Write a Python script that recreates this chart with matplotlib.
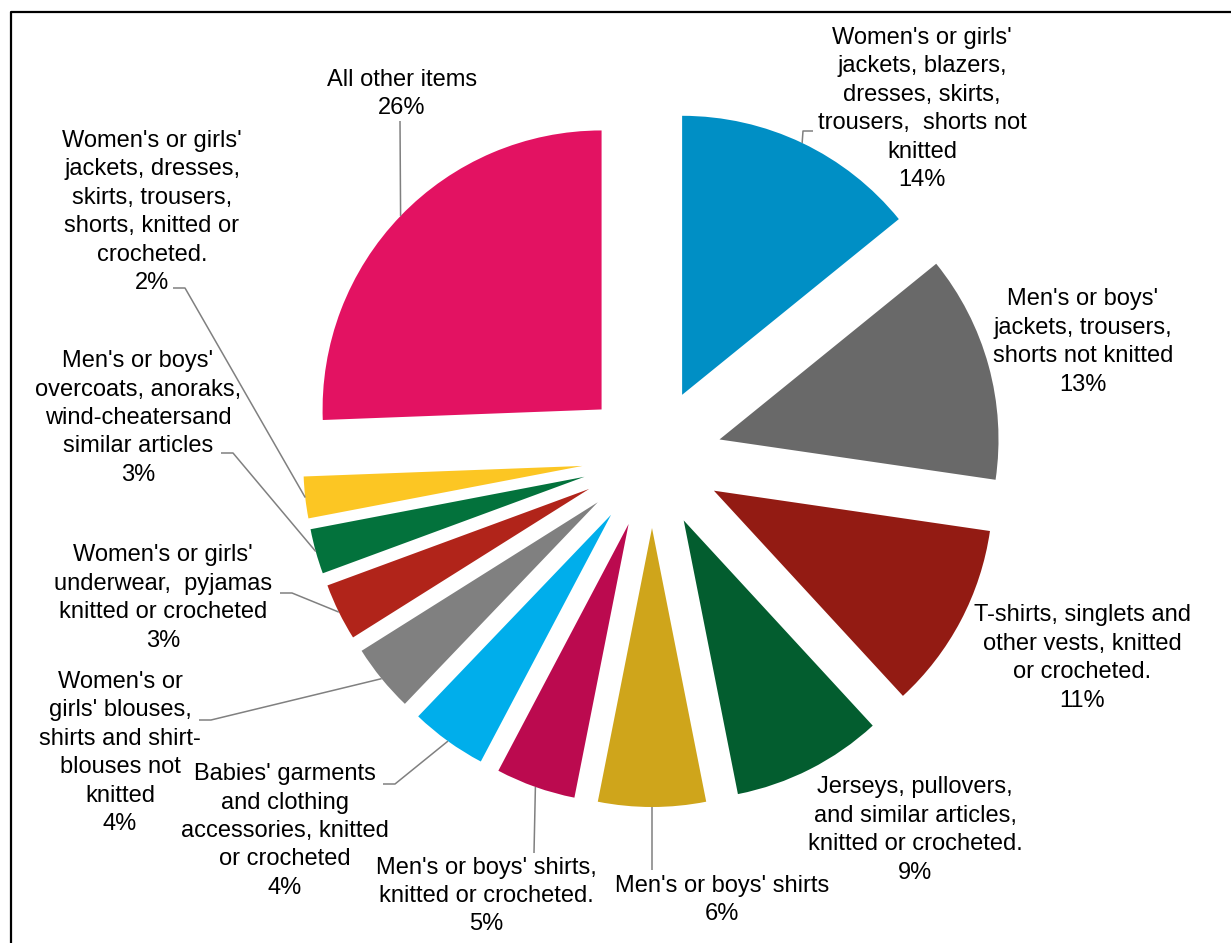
import numpy as np
import matplotlib
matplotlib.use("Agg")
import matplotlib.pyplot as plt

# slice data, clockwise from 12 o'clock
categories = [
    "Women's or girls'\njackets, blazers,\ndresses, skirts,\ntrousers,  shorts not\nknitted",
    "Men's or boys'\njackets, trousers,\nshorts not knitted",
    "T-shirts, singlets and\nother vests, knitted\nor crocheted.",
    "Jerseys, pullovers,\nand similar articles,\nknitted or crocheted.",
    "Men's or boys' shirts",
    "Men's or boys' shirts,\nknitted or crocheted.",
    "Babies' garments\nand clothing\naccessories, knitted\nor crocheted",
    "Women's or\ngirls' blouses,\nshirts and shirt-\nblouses not\nknitted",
    "Women's or girls'\nunderwear,  pyjamas\nknitted or crocheted",
    "Men's or boys'\novercoats, anoraks,\nwind-cheatersand\nsimilar articles",
    "Women's or girls'\njackets, dresses,\nskirts, trousers,\nshorts, knitted or\ncrocheted.",
    "All other items",
]
shares = [14.1, 13.1, 10.8, 8.7, 6.2, 4.6, 4.4, 3.9, 3.3, 2.6, 2.4, 25.5]
pct_labels = ["14%", "13%", "11%", "9%", "6%", "5%", "4%", "4%", "3%", "3%", "2%", "26%"]

colors = ['#008FC5', '#696969', '#931B13', '#035D2F', '#CFA51B', '#BB0A4F',
          '#00AEEB', '#808080', '#B1241A', '#03723C', '#FCC623', '#E31262']

W, H = 1231, 943

# label centres (pixel coords, y from top)
label_pos = [(922, 109), (1083, 342), (1082, 658), (915, 830), (722, 900), (486, 896),
             (285, 831), (120, 753), (163, 598), (138, 418), (152, 212), (402, 94)]
# where the leader leaves the label (None = no leader), and the short horizontal elbow
leader_start = [(813, 131), None, None, None, (652, 870), (534, 853),
                (383, 784), (199, 720), (280, 593), (221, 453), (173, 288), (400, 121)]
elbow = [-10, 0, 0, 0, 0, 0, 12, 12, 12, 12, 12, 0]

fig = plt.figure(figsize=(W / 100, H / 100), dpi=100)
ax = fig.add_axes([0, 0, 1, 1])

center = (652, H - 458)
radius = 279
wedges, _ = ax.pie(shares, colors=colors, startangle=90, counterclock=False,
                   radius=radius, center=center, explode=[70] * len(shares),
                   wedgeprops=dict(linewidth=0))

ax.set_xlim(0, W)
ax.set_ylim(0, H)
ax.set_aspect('auto')
ax.axis('off')

font = ['Liberation Sans', 'DejaVu Sans']
for i, w in enumerate(wedges):
    lx, ly = label_pos[i]
    ax.text(lx, H - ly, categories[i] + "\n" + pct_labels[i], ha='center', va='center',
            multialignment='center', fontsize=17, family=font, linespacing=1.38,
            color='black')

    if leader_start[i] is None:
        continue
    # anchor on the outer arc at the wedge's mid angle
    mid = np.deg2rad((w.theta1 + w.theta2) / 2)
    ax_, ay_ = w.center[0] + w.r * np.cos(mid), w.center[1] + w.r * np.sin(mid)
    sx, sy = leader_start[i]
    xs = [sx, sx + elbow[i], ax_]
    ys = [H - sy, H - sy, ay_]
    ax.plot(xs, ys, color='#808080', linewidth=1.1, solid_capstyle='butt')

# chart frame (only top and left edges are inside the picture)
ax.plot([11, 11, W + 10], [-10, H - 12, H - 12], color='black', linewidth=1.6,
        clip_on=False)

fig.savefig('out.png', dpi=100)
